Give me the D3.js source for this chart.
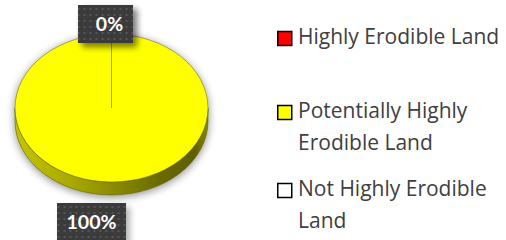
<!DOCTYPE html>
<html>
<head>
<meta charset="utf-8">
<script src="https://cdn.jsdelivr.net/npm/d3@7"></script>
<style>
  html, body { margin: 0; padding: 0; background: #fff; }
  svg { display: block; }
</style>
</head>
<body>
<div id="chart"></div>
<script>
const categories = ['Highly Erodible Land', 'Potentially Highly Erodible Land', 'Not Highly Erodible Land'];
const values = [0, 100, 0];
const labels = ['0%', '100%', '0%'];
const colors = ['#ff0000', '#ffff00', '#ffffff'];
const legendLines = [['Highly Erodible Land'], ['Potentially Highly', 'Erodible Land'], ['Not Highly Erodible', 'Land']];

const width = 506;
const height = 240;

// pie geometry (flattened 3d look)
const cx = 111.5, cy = 108;
const rx = 96.5, ry = 74;
const depth = 13;

const svg = d3.select('#chart')
  .append('svg')
    .attr('width', width)
    .attr('height', height);

const defs = svg.append('defs');

const shadow = defs.append('filter')
  .attr('id', 'shadow')
  .attr('x', '-20%').attr('y', '-20%')
  .attr('width', '140%').attr('height', '140%');
shadow.append('feGaussianBlur').attr('in', 'SourceAlpha').attr('stdDeviation', 4.5);
shadow.append('feOffset').attr('dx', 0).attr('dy', 2).attr('result', 'blur');
shadow.append('feComponentTransfer').append('feFuncA').attr('type', 'linear').attr('slope', 0.45);
const merge = shadow.append('feMerge');
merge.append('feMergeNode');
merge.append('feMergeNode').attr('in', 'SourceGraphic');

const boxShadow = defs.append('filter')
  .attr('id', 'boxShadow')
  .attr('x', '-30%').attr('y', '-30%')
  .attr('width', '170%').attr('height', '170%');
boxShadow.append('feGaussianBlur').attr('in', 'SourceAlpha').attr('stdDeviation', 3);
boxShadow.append('feOffset').attr('dx', 4).attr('dy', 4);
boxShadow.append('feComponentTransfer').append('feFuncA').attr('type', 'linear').attr('slope', 0.3);
const merge2 = boxShadow.append('feMerge');
merge2.append('feMergeNode');
merge2.append('feMergeNode').attr('in', 'SourceGraphic');

const sideGrad = defs.append('linearGradient')
  .attr('id', 'side')
  .attr('x1', 0).attr('x2', 1).attr('y1', 0).attr('y2', 0);
[[0, '#c4c400'], [0.3, '#a8a800'], [0.75, '#6a6a00'], [0.93, '#5e5e00'], [1, '#8a8a00']]
  .forEach(([o, c]) => sideGrad.append('stop').attr('offset', o).attr('stop-color', c));

const dots = defs.append('pattern')
  .attr('id', 'dots')
  .attr('width', 6).attr('height', 6)
  .attr('patternUnits', 'userSpaceOnUse');
dots.append('rect').attr('width', 6).attr('height', 6).attr('fill', '#3b3b3b');
dots.append('rect').attr('x', 2).attr('y', 2).attr('width', 2).attr('height', 2).attr('fill', '#555');

const pie = d3.pie().sort(null).value(d => d);
const arcs = pie(values);

// map a pie angle onto the tilted ellipse
const px = a => cx + rx * Math.sin(a);
const py = a => cy - ry * Math.cos(a);

const topPath = d => {
  if (d.endAngle - d.startAngle >= 2 * Math.PI - 1e-6) {
    return `M${cx - rx},${cy}A${rx},${ry} 0 1,1 ${cx + rx},${cy}A${rx},${ry} 0 1,1 ${cx - rx},${cy}Z`;
  }
  const large = d.endAngle - d.startAngle > Math.PI ? 1 : 0;
  return `M${cx},${cy}L${px(d.startAngle)},${py(d.startAngle)}A${rx},${ry} 0 ${large},1 ${px(d.endAngle)},${py(d.endAngle)}Z`;
};

const pieG = svg.append('g').attr('filter', 'url(#shadow)');

// side wall (front half of the ellipse)
pieG.append('path')
  .attr('d', `M${cx - rx},${cy}A${rx},${ry} 0 0,0 ${cx + rx},${cy}L${cx + rx},${cy + depth}A${rx},${ry} 0 0,1 ${cx - rx},${cy + depth}Z`)
  .attr('fill', 'url(#side)')
  .attr('stroke', '#5a5a00')
  .attr('stroke-width', 0.6);

pieG.selectAll('.slice')
  .data(arcs.filter(d => d.value > 0))
  .enter().append('path')
    .attr('class', 'slice')
    .attr('d', topPath)
    .attr('fill', d => colors[d.index])
    .attr('stroke', '#6b6b20')
    .attr('stroke-width', 0.6);

// boundary lines of empty slices
svg.selectAll('.edge')
  .data(arcs.filter(d => d.value === 0))
  .enter().append('line')
    .attr('class', 'edge')
    .attr('x1', cx).attr('y1', cy)
    .attr('x2', d => px(d.startAngle)).attr('y2', d => py(d.startAngle))
    .attr('stroke', '#a3a330')
    .attr('stroke-width', 1);

// data labels
const labelPos = d => {
  const a = (d.startAngle + d.endAngle) / 2;
  if (d.value === 0) return [px(a) - 6, py(a) - 10];
  return [px(a) - 20, py(a) + depth + 27];
};

const lab = svg.selectAll('.lab')
  .data(arcs)
  .enter().append('g')
    .attr('class', 'lab')
    .attr('transform', d => `translate(${labelPos(d)})`);

lab.append('rect')
  .attr('x', d => d.value === 0 ? -27.5 : -34.5)
  .attr('y', -19)
  .attr('width', d => d.value === 0 ? 55 : 69)
  .attr('height', 38)
  .attr('fill', 'url(#dots)')
  .attr('filter', 'url(#boxShadow)');

lab.append('text')
  .attr('x', d => d.value === 0 ? 4 : 0)
  .attr('y', 7)
  .attr('text-anchor', 'middle')
  .attr('font-family', 'Lato, "Open Sans", sans-serif')
  .attr('font-weight', 'bold')
  .attr('font-size', 19.5)
  .attr('fill', '#fff')
  .text((d, i) => labels[i]);

// legend: baseline of first line in each entry
const legendY = d3.scaleOrdinal()
  .domain(categories)
  .range([44, 118, 196]);

const leg = svg.selectAll('.legend')
  .data(categories)
  .enter().append('g')
    .attr('class', 'legend')
    .attr('transform', d => `translate(277, ${legendY(d)})`);

leg.append('rect')
  .attr('x', 0.75).attr('y', -12.5)
  .attr('width', 14).attr('height', 14)
  .attr('fill', (d, i) => colors[i])
  .attr('stroke', '#000')
  .attr('stroke-width', 1.5);

leg.append('text')
  .attr('font-family', '"Open Sans", sans-serif')
  .attr('font-size', 21)
  .attr('fill', '#404040')
  .selectAll('tspan')
  .data((d, i) => legendLines[i])
  .enter().append('tspan')
    .attr('x', 21)
    .attr('y', (d, j) => j * 32)
    .text(d => d);
</script>
</body>
</html>
